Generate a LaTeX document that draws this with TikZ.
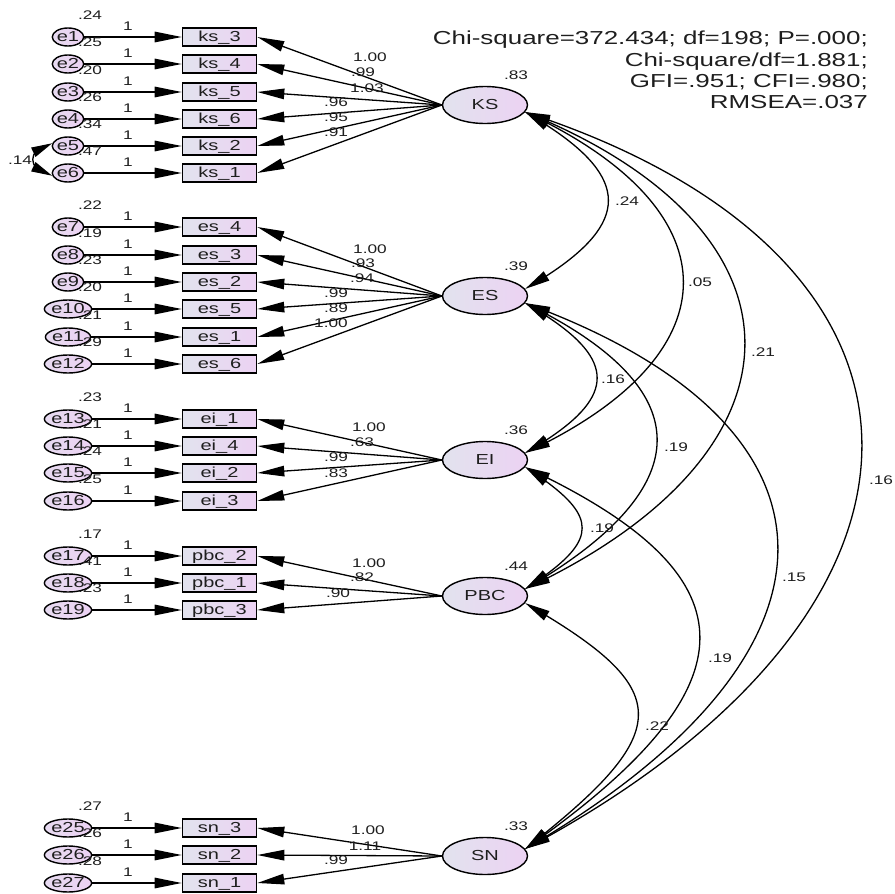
\documentclass[tikz,border=0pt]{standalone}
\usepackage{fontspec}
\setmainfont{Liberation Sans}[FakeStretch=1.38]
\usetikzlibrary{arrows.meta,shapes.geometric,bending}
\definecolor{txt}{HTML}{1E1E1E}
\definecolor{shL}{HTML}{E2E3EE}
\definecolor{shR}{HTML}{ECD2F3}
\begin{document}
\begin{tikzpicture}[x=1pt,y=-1pt,
  lbl/.style={font=\fontsize{12.5}{14}\selectfont, inner sep=0pt, text=txt},
  obs/.style={rectangle, draw=black, line width=1.6pt, left color=shL, right color=shR, minimum width=74pt, minimum height=18pt, inner sep=0pt, text height=10.5pt, text depth=1pt, text=txt, font=\fontsize{14.5}{16}\selectfont},
  lat/.style={ellipse, draw=black, line width=1.4pt, left color=shL, right color=shR, minimum width=85pt, minimum height=37pt, inner sep=0pt, text=txt, font=\fontsize{14.5}{16}\selectfont},
  err/.style={ellipse, draw=black, line width=1.4pt, left color=shL!50!shR, right color=shR, minimum width=30pt, minimum height=18pt, inner sep=0pt, text=txt, font=\fontsize{14.5}{16}\selectfont},
  arr/.style={-{Triangle[length=27pt,width=10.5pt]}, line width=1.3pt},
  cov/.style={{Triangle[length=25pt,width=10.5pt]}-{Triangle[length=25pt,width=10.5pt]}, line width=1.3pt},
  covs/.style={{Triangle[length=21pt,width=10pt]}-{Triangle[length=21pt,width=10pt]}, line width=1.3pt},
  gof/.style={font=\fontsize{18.8}{21}\selectfont, inner sep=0pt, text=txt, anchor=base east}
]
\useasboundingbox (0,0) rectangle (895,894);

% latent variables
\node[lat] (KS)  at (485,105) {KS};
\node[lat] (ES)  at (485,296) {ES};
\node[lat] (EI)  at (485,460) {EI};
\node[lat] (PBC) at (485,596) {PBC};
\node[lat] (SN)  at (485,856) {SN};

\node[lbl] at (516,75)  {.83};
\node[lbl] at (516,266) {.39};
\node[lbl] at (516,430) {.36};
\node[lbl] at (516,566) {.44};
\node[lbl] at (516,826) {.33};

% indicators
\foreach \ii/\en/\yy/\tx/\va/\la/\lx/\ly/\lv in {
  1/1/37/ks\_3/.24/KS/370/57/1.00,
  2/2/64/ks\_4/.25/KS/363/72/.99,
  3/3/92/ks\_5/.20/KS/367/88/1.03,
  4/4/119/ks\_6/.26/KS/336/102/.96,
  5/5/146/ks\_2/.34/KS/336/117/.95,
  6/6/173/ks\_1/.47/KS/336/132/.91,
  7/7/227/es\_4/.22/ES/370/249/1.00,
  8/8/255/es\_3/.19/ES/363/263/.93,
  9/9/282/es\_2/.23/ES/362/278/.94,
  10/10/309/es\_5/.20/ES/336/293/.99,
  11/11/337/es\_1/.21/ES/336/308/.89,
  12/12/364/es\_6/.29/ES/331/323/1.00,
  13/13/419/ei\_1/.23/EI/369/427/1.00,
  14/14/446/ei\_4/.21/EI/362/442/.63,
  15/15/473/ei\_2/.24/EI/336/457/.99,
  16/16/501/ei\_3/.25/EI/336/473/.83,
  17/17/556/pbc\_2/.17/PBC/369/563/1.00,
  18/18/583/pbc\_1/.41/PBC/362/577/.82,
  19/19/610/pbc\_3/.23/PBC/338/593/.90,
  20/25/828/sn\_3/.27/SN/368/830/1.00,
  21/26/855/sn\_2/.26/SN/365/846/1.11,
  22/27/883/sn\_1/.28/SN/336/860/.99}{
  \node[err] (e\en) at (68,\yy) {e\en};
  \node[obs] (o\ii) at (219.5,\yy) {\tx};
  \draw[arr] (e\en) -- (o\ii);
  \node[lbl] at (128,\yy-10.5) {1};
  \node[lbl] at (90,\yy-21.5) {\va};
  \draw[arr] (\la.west) -- (o\ii.east);
  \node[lbl] at (\lx,\ly) {\lv};
}

% error covariance
\draw[covs] (e5.170) .. controls +(-26,4) and +(-26,-4) .. (e6.190);
\node[lbl] at (20,160) {.14};

% latent covariances
\draw[cov] (KS.-10) .. controls +(111,64) and +(111,-64) .. (ES.10);
\draw[cov] (KS.-10) .. controls +(211,98) and +(211,-98) .. (EI.10);
\draw[cov] (KS.-10) .. controls +(293,118) and +(293,-137) .. (PBC.10);
\draw[cov] (KS.-10) .. controls +(449,146) and +(449,-239) .. (SN.10);
\draw[cov] (ES.-10) .. controls +(96,55) and +(96,-55) .. (EI.10);
\draw[cov] (ES.-10) .. controls +(176,86) and +(176,-102) .. (PBC.10);
\draw[cov] (ES.-10) .. controls +(337,123) and +(337,-195) .. (SN.10);
\draw[cov] (EI.-10) .. controls +(76,49) and +(76,-49) .. (PBC.10);
\draw[cov] (EI.-10) .. controls +(233,109) and +(233,-163) .. (SN.10);
\draw[cov] (PBC.-10) .. controls +(151,87) and +(151,-118) .. (SN.10);

\node[lbl] at (627,201) {.24};
\node[lbl] at (700,282) {.05};
\node[lbl] at (763,352) {.21};
\node[lbl] at (881,480) {.16};
\node[lbl] at (613,379) {.16};
\node[lbl] at (676,447) {.19};
\node[lbl] at (794,577) {.15};
\node[lbl] at (602,528) {.19};
\node[lbl] at (720,658) {.19};
\node[lbl] at (657,726) {.22};

% fit indices
\node[gof] at (868,45)  {Chi-square=372.434; df=198; P=.000;};
\node[gof] at (868,66)  {Chi-square/df=1.881;};
\node[gof] at (868,87)  {GFI=.951; CFI=.980;};
\node[gof] at (868,108) {RMSEA=.037};
\end{tikzpicture}
\end{document}
